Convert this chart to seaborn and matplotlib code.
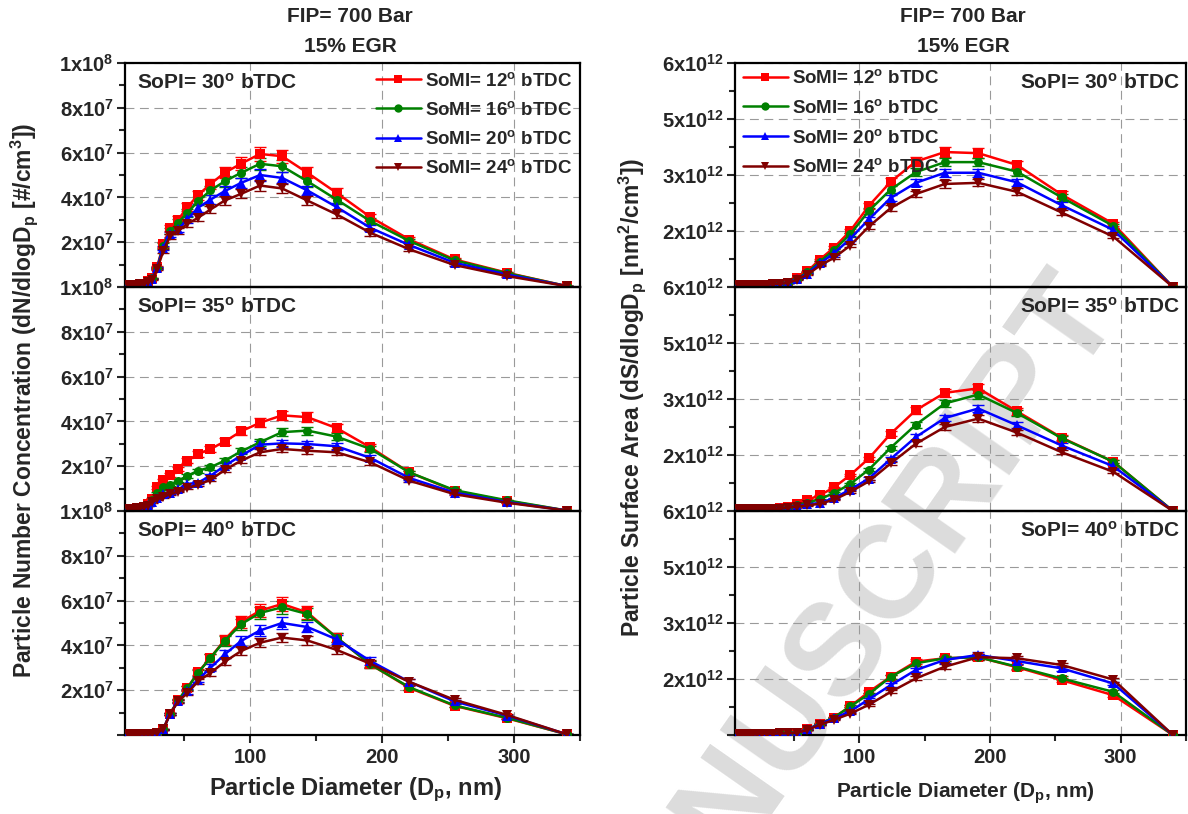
import pandas as pd
import seaborn as sns
import matplotlib.pyplot as plt
import matplotlib.ticker as ticker
from matplotlib.lines import Line2D

sns.set_style('ticks')
plt.rcParams['font.family'] = ['Liberation Sans', 'DejaVu Sans']
plt.rcParams['font.weight'] = 'bold'
plt.rcParams['mathtext.fontset'] = 'custom'
plt.rcParams['mathtext.rm'] = 'Liberation Sans:bold'
plt.rcParams['mathtext.bf'] = 'Liberation Sans:bold'
plt.rcParams['mathtext.it'] = 'Liberation Sans:bold'

# particle diameter bins (nm)
x_dp = [7.0, 8.1, 9.3, 10.7, 12.4, 14.3, 16.5, 19.1, 22.1, 25.5, 29.4, 34.0, 39.2, 45.3,
        52.3, 60.4, 69.8, 80.6, 93.1, 107.4, 124.1, 143.3, 165.5, 191.1, 220.7, 254.9, 294.4, 340.0]

somi = ['SoMI= 12$^{o}$ bTDC', 'SoMI= 16$^{o}$ bTDC', 'SoMI= 20$^{o}$ bTDC', 'SoMI= 24$^{o}$ bTDC']
sopi = ['SoPI= 30$^{o}$ bTDC', 'SoPI= 35$^{o}$ bTDC', 'SoPI= 40$^{o}$ bTDC']

# number concentration, units of 1e7 #/cm3
n30_12 = [0.10, 0.10, 0.10, 0.10, 0.11, 0.11, 0.12, 0.14, 0.25, 0.40, 0.90, 1.90, 2.64, 3.00, 3.57, 4.10, 4.60, 5.10, 5.51, 5.94, 5.84, 5.10, 4.20, 3.12, 2.12, 1.23, 0.64, 0.04]
n30_16 = [0.10, 0.10, 0.10, 0.10, 0.11, 0.11, 0.12, 0.14, 0.25, 0.38, 0.85, 1.85, 2.50, 2.87, 3.31, 3.83, 4.31, 4.72, 5.10, 5.50, 5.39, 4.72, 3.90, 2.94, 2.05, 1.19, 0.62, 0.04]
n30_20 = [0.10, 0.10, 0.10, 0.10, 0.11, 0.11, 0.12, 0.14, 0.24, 0.36, 0.85, 1.75, 2.35, 2.57, 3.02, 3.54, 3.90, 4.28, 4.65, 5.00, 4.87, 4.31, 3.57, 2.64, 1.87, 1.08, 0.56, 0.04]
n30_24 = [0.10, 0.10, 0.10, 0.10, 0.11, 0.11, 0.12, 0.13, 0.22, 0.33, 0.80, 1.60, 2.27, 2.50, 2.82, 3.09, 3.46, 3.86, 4.16, 4.53, 4.40, 3.86, 3.24, 2.42, 1.68, 0.98, 0.49, 0.04]

n35_12 = [0.10, 0.10, 0.10, 0.10, 0.11, 0.12, 0.14, 0.20, 0.30, 0.55, 1.05, 1.38, 1.60, 1.87, 2.25, 2.54, 2.77, 3.10, 3.56, 3.94, 4.27, 4.19, 3.70, 2.84, 1.72, 0.90, 0.45, 0.02]
n35_16 = [0.10, 0.10, 0.10, 0.10, 0.11, 0.12, 0.14, 0.18, 0.28, 0.50, 0.82, 1.05, 1.17, 1.35, 1.57, 1.80, 1.95, 2.25, 2.66, 3.07, 3.52, 3.59, 3.32, 2.77, 1.72, 0.93, 0.48, 0.02]
n35_20 = [0.10, 0.10, 0.10, 0.10, 0.11, 0.12, 0.13, 0.17, 0.25, 0.42, 0.60, 0.75, 0.82, 0.97, 1.20, 1.27, 1.57, 2.02, 2.47, 2.96, 3.02, 2.99, 2.89, 2.37, 1.47, 0.82, 0.40, 0.02]
n35_24 = [0.10, 0.10, 0.10, 0.10, 0.11, 0.12, 0.13, 0.16, 0.24, 0.38, 0.52, 0.63, 0.75, 0.87, 1.02, 1.17, 1.39, 1.83, 2.25, 2.62, 2.77, 2.69, 2.62, 2.17, 1.35, 0.75, 0.37, 0.02]

n40_12 = [0.05, 0.05, 0.05, 0.05, 0.05, 0.05, 0.05, 0.05, 0.05, 0.06, 0.10, 0.25, 0.95, 1.55, 2.10, 2.80, 3.45, 4.25, 5.05, 5.55, 5.85, 5.47, 4.35, 3.15, 2.10, 1.30, 0.75, 0.03]
n40_16 = [0.05, 0.05, 0.05, 0.05, 0.05, 0.05, 0.05, 0.05, 0.05, 0.06, 0.10, 0.25, 0.95, 1.55, 2.10, 2.77, 3.45, 4.20, 4.95, 5.45, 5.70, 5.40, 4.35, 3.15, 2.13, 1.32, 0.77, 0.03]
n40_20 = [0.05, 0.05, 0.05, 0.05, 0.05, 0.05, 0.05, 0.05, 0.05, 0.06, 0.10, 0.25, 0.95, 1.50, 1.95, 2.47, 3.00, 3.60, 4.20, 4.67, 5.00, 4.82, 4.27, 3.30, 2.37, 1.50, 0.87, 0.03]
n40_24 = [0.05, 0.05, 0.05, 0.05, 0.05, 0.05, 0.05, 0.05, 0.05, 0.06, 0.10, 0.25, 0.95, 1.50, 1.87, 2.40, 2.77, 3.27, 3.75, 4.12, 4.35, 4.22, 3.80, 3.18, 2.37, 1.57, 0.90, 0.03]

# surface area, units of 1e12 (axis position units)
s30_12 = [0.03, 0.03, 0.03, 0.03, 0.03, 0.03, 0.03, 0.03, 0.03, 0.03, 0.04, 0.05, 0.06, 0.08, 0.16, 0.28, 0.49, 0.70, 1.00, 1.45, 1.88, 2.24, 2.41, 2.39, 2.18, 1.65, 1.13, 0.00]
s30_16 = [0.03, 0.03, 0.03, 0.03, 0.03, 0.03, 0.03, 0.03, 0.03, 0.03, 0.04, 0.05, 0.06, 0.08, 0.15, 0.26, 0.45, 0.66, 0.94, 1.36, 1.74, 2.05, 2.23, 2.23, 2.06, 1.60, 1.09, 0.00]
s30_20 = [0.03, 0.03, 0.03, 0.03, 0.03, 0.03, 0.03, 0.03, 0.03, 0.03, 0.04, 0.05, 0.06, 0.08, 0.14, 0.24, 0.42, 0.60, 0.86, 1.21, 1.59, 1.86, 2.04, 2.04, 1.87, 1.46, 1.02, 0.00]
s30_24 = [0.03, 0.03, 0.03, 0.03, 0.03, 0.03, 0.03, 0.03, 0.03, 0.03, 0.04, 0.05, 0.06, 0.07, 0.13, 0.22, 0.38, 0.52, 0.74, 1.08, 1.41, 1.66, 1.84, 1.86, 1.70, 1.33, 0.90, 0.00]

s35_12 = [0.03, 0.03, 0.03, 0.03, 0.03, 0.03, 0.03, 0.03, 0.03, 0.03, 0.03, 0.04, 0.05, 0.08, 0.12, 0.20, 0.28, 0.42, 0.64, 0.94, 1.38, 1.80, 2.11, 2.19, 1.78, 1.31, 0.88, 0.00]
s35_16 = [0.03, 0.03, 0.03, 0.03, 0.03, 0.03, 0.03, 0.03, 0.03, 0.03, 0.03, 0.04, 0.05, 0.07, 0.11, 0.15, 0.21, 0.32, 0.48, 0.74, 1.13, 1.54, 1.92, 2.08, 1.75, 1.30, 0.88, 0.00]
s35_20 = [0.03, 0.03, 0.03, 0.03, 0.03, 0.03, 0.03, 0.03, 0.03, 0.03, 0.03, 0.04, 0.05, 0.06, 0.09, 0.12, 0.14, 0.23, 0.38, 0.58, 0.93, 1.32, 1.66, 1.83, 1.53, 1.17, 0.80, 0.00]
s35_24 = [0.03, 0.03, 0.03, 0.03, 0.03, 0.03, 0.03, 0.03, 0.03, 0.03, 0.03, 0.04, 0.04, 0.06, 0.08, 0.10, 0.13, 0.20, 0.34, 0.53, 0.85, 1.20, 1.50, 1.65, 1.40, 1.05, 0.70, 0.00]

s40_12 = [0.02, 0.02, 0.02, 0.02, 0.02, 0.02, 0.02, 0.02, 0.02, 0.02, 0.02, 0.02, 0.03, 0.03, 0.04, 0.10, 0.20, 0.31, 0.51, 0.77, 1.04, 1.31, 1.37, 1.39, 1.21, 0.98, 0.71, 0.00]
s40_16 = [0.02, 0.02, 0.02, 0.02, 0.02, 0.02, 0.02, 0.02, 0.02, 0.02, 0.02, 0.02, 0.03, 0.03, 0.04, 0.10, 0.20, 0.31, 0.51, 0.73, 1.04, 1.28, 1.37, 1.39, 1.22, 1.01, 0.77, 0.00]
s40_20 = [0.02, 0.02, 0.02, 0.02, 0.02, 0.02, 0.02, 0.02, 0.02, 0.02, 0.02, 0.02, 0.03, 0.03, 0.04, 0.10, 0.19, 0.30, 0.42, 0.64, 0.89, 1.16, 1.34, 1.43, 1.32, 1.19, 0.92, 0.00]
s40_24 = [0.02, 0.02, 0.02, 0.02, 0.02, 0.02, 0.02, 0.02, 0.02, 0.02, 0.02, 0.02, 0.03, 0.03, 0.04, 0.09, 0.18, 0.27, 0.38, 0.54, 0.77, 1.01, 1.22, 1.39, 1.37, 1.25, 0.99, 0.00]

num_sets = [[n30_12, n30_16, n30_20, n30_24],
            [n35_12, n35_16, n35_20, n35_24],
            [n40_12, n40_16, n40_20, n40_24]]
surf_sets = [[s30_12, s30_16, s30_20, s30_24],
             [s35_12, s35_16, s35_20, s35_24],
             [s40_12, s40_16, s40_20, s40_24]]

num_ticklabels = ['', '2x10$^{7}$', '4x10$^{7}$', '6x10$^{7}$', '8x10$^{7}$', '1x10$^{8}$']
surf_ticklabels = ['', '2x10$^{12}$', '3x10$^{12}$', '5x10$^{12}$', '6x10$^{12}$']

my_palette = dict(zip(somi, ['#ff0000', '#008000', '#0000ff', '#800000']))
my_markers = dict(zip(somi, ['s', 'o', '^', 'v']))
err_num = 0.05
err_surf = 0.035


def make_df(series_list, scale):
    rows = []
    for name, vals in zip(somi, series_list):
        for xv, yv in zip(x_dp, vals):
            rows.append({'Dp': xv, 'val': yv * scale, 'SoMI': name})
    return pd.DataFrame(rows)


def draw_panel(ax, df, frac):
    sns.lineplot(data=df, x='Dp', y='val', hue='SoMI', style='SoMI', hue_order=somi,
                 style_order=somi, palette=my_palette, markers=my_markers, dashes=False,
                 errorbar=None, linewidth=1.8, markersize=6.5, markeredgewidth=0,
                 legend=False, ax=ax, zorder=3)
    for name in somi:
        d = df[df['SoMI'] == name]
        ax.errorbar(d['Dp'], d['val'], yerr=d['val'] * frac, fmt='none',
                    ecolor=my_palette[name], elinewidth=1.0, capsize=4, capthick=1.0, zorder=2)


fig = plt.figure(figsize=(11.88, 8.14), dpi=100)
W, H = 1188, 814
top0, ph = 63, 224.0

handles = [Line2D([], [], color=my_palette[s], marker=my_markers[s], lw=1.8,
                  markersize=6, markeredgewidth=0) for s in somi]

for col in range(2):
    left = 125 if col == 0 else 735
    width = 455 if col == 0 else 451
    for k in range(3):
        b = 1 - (top0 + ph * (k + 1)) / H
        ax = fig.add_axes([left / W, b, width / W, ph / H])
        ax.set_facecolor('none')
        if col == 0:
            draw_panel(ax, make_df(num_sets[k], 1e7), err_num)
            ax.set_ylim(0, 1e8)
            ax.yaxis.set_major_locator(ticker.FixedLocator([0, 2e7, 4e7, 6e7, 8e7, 1e8]))
            ax.yaxis.set_minor_locator(ticker.FixedLocator([1e7, 3e7, 5e7, 7e7, 9e7]))
            ax.yaxis.set_major_formatter(ticker.FixedFormatter(num_ticklabels))
        else:
            draw_panel(ax, make_df(surf_sets[k], 1e12), err_surf)
            ax.set_ylim(0, 4e12)
            ax.yaxis.set_major_locator(ticker.FixedLocator([0, 1e12, 2e12, 3e12, 4e12]))
            ax.yaxis.set_minor_locator(ticker.FixedLocator([0.5e12, 1.5e12, 2.5e12, 3.5e12]))
            ax.yaxis.set_major_formatter(ticker.FixedFormatter(surf_ticklabels))
        ax.set_xlim(5, 350)
        ax.xaxis.set_major_locator(ticker.FixedLocator([100, 200, 300]))
        ax.xaxis.set_minor_locator(ticker.FixedLocator([50, 150, 250, 350]))
        ax.set_xlabel('')
        ax.set_ylabel('')
        ax.set_axisbelow(True)
        ax.grid(True, which='major', ls=(0, (8, 5)), color='#9a9a9a', lw=0.8)
        for sp in ax.spines.values():
            sp.set_visible(True)
            sp.set_linewidth(1.6)
            sp.set_color('black')
        ax.tick_params(axis='y', which='major', direction='out', length=6, width=1.5,
                       labelsize=14.5, pad=2)
        ax.tick_params(axis='y', which='minor', direction='out', length=4, width=1.5)
        if k == 2:
            ax.tick_params(axis='x', which='major', direction='out', length=6, width=1.5,
                           labelsize=14.5)
            ax.tick_params(axis='x', which='minor', direction='out', length=4, width=1.5)
        else:
            ax.tick_params(axis='x', which='both', length=0, labelbottom=False)
        if col == 0:
            ax.text(0.026, 0.91, sopi[k], transform=ax.transAxes, ha='left', va='center',
                    fontsize=15, fontweight='bold')
        else:
            ax.text(0.988, 0.91, sopi[k], transform=ax.transAxes, ha='right', va='center',
                    fontsize=15, fontweight='bold')
        if k == 0:
            if col == 0:
                ax.legend(handles, somi, loc='upper right', bbox_to_anchor=(1.0, 0.995),
                          frameon=False, fontsize=13.5, handlelength=2.4, handletextpad=0.25,
                          labelspacing=0.6, borderaxespad=0.0)
            else:
                ax.legend(handles, somi, loc='upper left', bbox_to_anchor=(0.0, 1.005),
                          frameon=False, fontsize=13.5, handlelength=2.4, handletextpad=0.25,
                          labelspacing=0.62, borderaxespad=0.0)

# titles
for cx in (350, 963):
    fig.text(cx / W, 1 - 16 / H, 'FIP= 700 Bar', ha='center', va='center', fontsize=15, fontweight='bold')
    fig.text(cx / W, 1 - 46 / H, '15% EGR', ha='center', va='center', fontsize=15, fontweight='bold')

fig.text(24 / W, 1 - 400 / H, 'Particle Number Concentration (dN/dlogD$_{p}$ [#/cm$^{3}$])',
         rotation=90, ha='center', va='center', fontsize=16.5, fontweight='bold')
fig.text(632 / W, 1 - 398 / H, 'Particle Surface Area (dS/dlogD$_{p}$ [nm$^{2}$/cm$^{3}$])',
         rotation=90, ha='center', va='center', fontsize=16.5, fontweight='bold')
fig.text(355 / W, 1 - 790 / H, 'Particle Diameter (D$_{p}$, nm)', ha='center', va='center',
         fontsize=17, fontweight='bold')
fig.text(965 / W, 1 - 793 / H, 'Particle Diameter (D$_{p}$, nm)', ha='center', va='center',
         fontsize=15, fontweight='bold')

# watermark
fig.text(1119 / W, 1 - 306 / H, 'MANUSCRIPT', rotation=55, rotation_mode='anchor',
         ha='right', va='baseline', fontsize=95, fontweight='bold', color='#dcdcdc', zorder=-1)

plt.savefig('out.png', dpi=100)
